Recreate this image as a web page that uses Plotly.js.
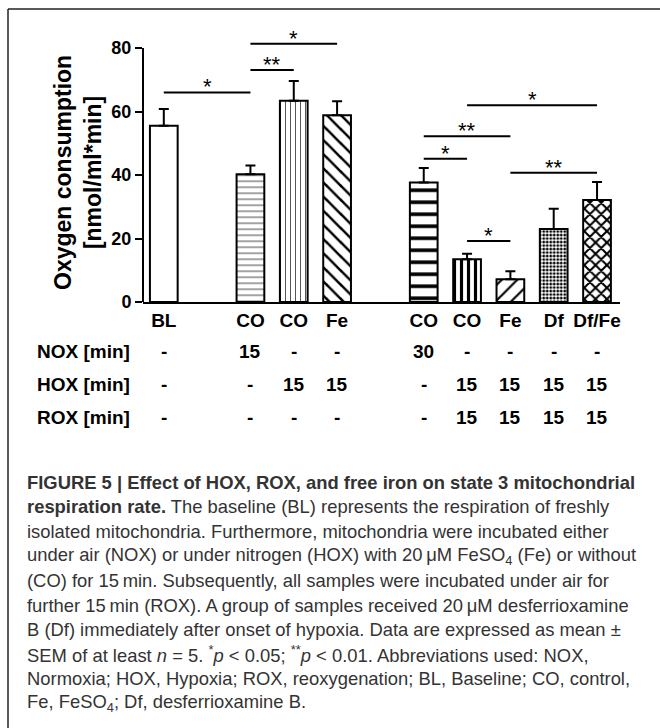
<!DOCTYPE html>
<html>
<head>
<meta charset="utf-8">
<script src="https://cdn.plot.ly/plotly-3.0.1.min.js"></script>
<style>
  html, body { margin: 0; padding: 0; background: #ffffff; }
  #chart { width: 660px; height: 728px; }
</style>
</head>
<body>
<div id="chart"></div>
<script>
// ---------- data ----------
const labels = ['BL', 'CO', 'CO', 'Fe', 'CO', 'CO', 'Fe', 'Df', 'Df/Fe'];
const groups = [0, 1, 1, 1, 2, 2, 2, 2, 2];
const means  = [55.5, 40.2, 63.4, 58.8, 37.6, 13.5, 7.2, 23.0, 32.1];
const sems   = [5.3, 2.8, 6.2, 4.4, 4.6, 1.7, 2.5, 6.4, 5.7];
const noxRow = ['-', '15', '-', '-', '30', '-', '-', '-', '-'];
const hoxRow = ['-', '-', '15', '15', '-', '15', '15', '15', '15'];
const roxRow = ['-', '-', '-', '-', '-', '15', '15', '15', '15'];
const rowNames = ['NOX [min]', 'HOX [min]', 'ROX [min]'];
const yTicks = [0, 20, 40, 60, 80];
// significance brackets: from bar index, to bar index, height, label
const sigFrom  = [0, 1, 1, 5, 4, 4, 6, 5];
const sigTo    = [1, 2, 3, 8, 6, 5, 8, 6];
const sigY     = [66.0, 73.1, 81.3, 62.0, 52.2, 45.1, 40.7, 19.2];
const sigLabel = ['*', '**', '*', '*', '**', '*', '**', '*'];
const captionLines = [
  '<b>FIGURE 5 | Effect of HOX, ROX, and free iron on state 3 mitochondrial</b>',
  '<b>respiration rate.</b> The baseline (BL) represents the respiration of freshly',
  'isolated mitochondria. Furthermore, mitochondria were incubated either',
  'under air (NOX) or under nitrogen (HOX) with 20\u2009\u03bcM FeSO<sub>4</sub> (Fe) or without',
  '(CO) for 15\u2009min. Subsequently, all samples were incubated under air for',
  'further 15\u2009min (ROX). A group of samples received 20\u2009\u03bcM desferrioxamine',
  'B (Df) immediately after onset of hypoxia. Data are expressed as mean \u00b1',
  'SEM of at least <i>n</i> = 5. <sup>*</sup><i>p</i> &lt; 0.05; <sup>**</sup><i>p</i> &lt; 0.01. Abbreviations used: NOX,',
  'Normoxia; HOX, Hypoxia; ROX, reoxygenation; BL, Baseline; CO, control,',
  'Fe, FeSO<sub>4</sub>; Df, desferrioxamine B.'
];

// ---------- layout helpers ----------
const W = 660, H = 728;
const xpos = labels.map((_, i) => i + groups[i]);
const py = p => 1 - p / H;   // pixel-from-top -> paper y
const px = p => p / W;       // pixel-from-left -> paper x
const FONT = 'Liberation Sans, Arial, Helvetica, sans-serif';
const CAPFONT = 'Liberation Sans Narrow, Arial Narrow, Liberation Sans, Arial, sans-serif';

const patShape = ['', '-', '|', '\\', '-', '|', '/', '.', 'x'];
const patSize  = [8, 6, 5, 10, 12, 7, 11, 3.5, 8];
const patSolid = [0.2, 0.18, 0.2, 0.25, 0.3, 0.45, 0.2, 0.5, 0.45];
const patFg    = ['#000', '#555', '#555', '#000', '#000', '#000', '#000', '#000', '#000'];

const trace = {
  type: 'bar',
  x: xpos,
  y: means,
  width: 0.64,
  marker: {
    color: '#ffffff',
    line: { color: '#000', width: 2 },
    pattern: { shape: patShape, size: patSize, solidity: patSolid, fgcolor: patFg, bgcolor: '#ffffff', fillmode: 'replace' }
  },
  error_y: {
    type: 'data', symmetric: false, array: sems, arrayminus: sems.map(() => 0),
    color: '#000', thickness: 2, width: 5
  },
  hoverinfo: 'skip',
  showlegend: false
};

const shapes = [];
const annotations = [];

// frame lines
shapes.push({ type: 'line', xref: 'paper', yref: 'paper', x0: px(8), x1: 1, y0: py(9), y1: py(9), line: { color: '#222', width: 1.5 } });
shapes.push({ type: 'line', xref: 'paper', yref: 'paper', x0: px(8), x1: px(8), y0: py(9), y1: 0, line: { color: '#222', width: 1.5 } });

// y axis line only up to 80
shapes.push({ type: 'line', xref: 'x domain', yref: 'y', x0: 0, x1: 0, y0: 0, y1: yTicks[yTicks.length - 1], line: { color: '#000', width: 2 } });

// significance brackets
for (let k = 0; k < sigFrom.length; k++) {
  const x0 = xpos[sigFrom[k]], x1 = xpos[sigTo[k]];
  shapes.push({ type: 'line', xref: 'x', yref: 'y', x0: x0, x1: x1, y0: sigY[k], y1: sigY[k], line: { color: '#000', width: 2 } });
  annotations.push({ xref: 'x', yref: 'y', x: (x0 + x1) / 2, y: sigY[k], text: sigLabel[k], showarrow: false,
    xanchor: 'center', yanchor: 'bottom', yshift: -9, font: { family: FONT, size: 22, color: '#000' } });
}

// y-axis title
annotations.push({ xref: 'paper', yref: 'paper', x: px(78), y: py(173), text: '<b>Oxygen consumption</b><br><b>[nmol/ml*min]</b>',
  showarrow: false, textangle: -90, xanchor: 'center', yanchor: 'middle', font: { family: FONT, size: 23, color: '#000' } });

// condition table
const rows = [noxRow, hoxRow, roxRow];
const rowY = [351, 384.5, 418];
rows.forEach((row, r) => {
  annotations.push({ xref: 'paper', yref: 'paper', x: px(35), y: py(rowY[r]), text: rowNames[r], showarrow: false,
    xanchor: 'left', yanchor: 'middle', font: { family: FONT, size: 19, color: '#000', weight: 'bold' } });
  row.forEach((v, i) => {
    annotations.push({ xref: 'x', yref: 'paper', x: xpos[i], y: py(rowY[r]), text: v, showarrow: false,
      xanchor: 'center', yanchor: 'middle', font: { family: FONT, size: 19, color: '#000', weight: 'bold' } });
  });
});

// caption
captionLines.forEach((t, i) => {
  annotations.push({ xref: 'paper', yref: 'paper', x: px(25), y: py(482 + i * 24.6), text: t, showarrow: false,
    xanchor: 'left', yanchor: 'middle', align: 'left', font: { family: CAPFONT, size: 18.4, color: '#333' } });
});

const layout = {
  width: W, height: H,
  margin: { l: 0, r: 0, t: 0, b: 0, pad: 0 },
  paper_bgcolor: '#ffffff',
  plot_bgcolor: 'rgba(0,0,0,0)',
  xaxis: {
    domain: [px(143), px(620)],
    range: [-0.48, 10.53],
    tickvals: xpos, ticktext: labels,
    ticks: '', showgrid: false, zeroline: false,
    showline: true, linecolor: '#000', linewidth: 2,
    tickfont: { family: FONT, size: 19, color: '#000', weight: 'bold' },
    fixedrange: true
  },
  yaxis: {
    domain: [(H - 302) / H, (H - 16.25) / H],
    range: [0, 90],
    tickvals: yTicks,
    ticks: 'outside', ticklen: 7, tickwidth: 2, tickcolor: '#000',
    showgrid: false, zeroline: false, showline: false,
    tickfont: { family: FONT, size: 18, color: '#000', weight: 'bold' },
    fixedrange: true
  },
  shapes: shapes,
  annotations: annotations,
  bargap: 0
};

Plotly.newPlot('chart', [trace], layout, { staticPlot: true, displayModeBar: false });
</script>
</body>
</html>
